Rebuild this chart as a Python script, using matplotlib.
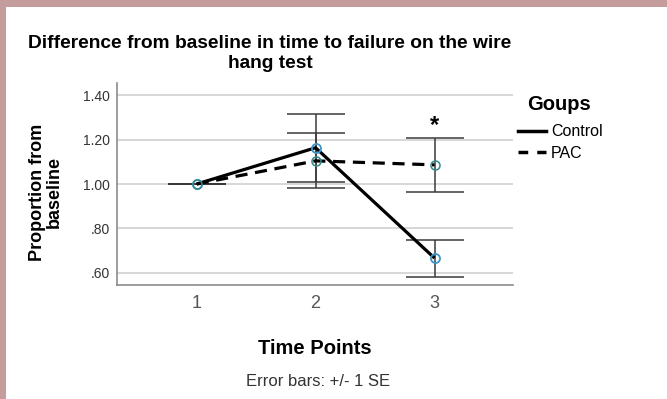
import matplotlib
matplotlib.use("Agg")
import matplotlib.pyplot as plt
from matplotlib.lines import Line2D
from matplotlib.patches import Rectangle
from matplotlib.ticker import FuncFormatter

# ---- data ----
time_points = [1, 2, 3]
x_tick_labels = ["1", "2", "3"]
control_mean = [1.00, 1.163, 0.667]
control_se = [0.0, 0.153, 0.083]
pac_mean = [1.00, 1.104, 1.086]
pac_se = [0.0, 0.124, 0.121]
y_ticks = [0.60, 0.80, 1.00, 1.20, 1.40]
group_names = ["Control", "PAC"]
sig_point = 3

FONT = "Liberation Sans"

W, H = 667, 399
fig = plt.figure(figsize=(W / 100, H / 100), dpi=100)
fig.patch.set_facecolor("white")

# pink frame bands
border = "#c49c9c"
fig.patches.append(Rectangle((0, 1 - 7 / H), 1, 7 / H, transform=fig.transFigure,
                             facecolor=border, edgecolor="none", zorder=0))
fig.patches.append(Rectangle((0, 0), 6 / W, 1, transform=fig.transFigure,
                             facecolor=border, edgecolor="none", zorder=0))

ax = fig.add_axes([117 / W, 1 - 285 / H, (513 - 117) / W, (285 - 83) / H])
ax.set_xlim(0.33, 3.66)
ax.set_ylim(0.546, 1.454)

for yv in y_ticks:
    ax.axhline(yv, color="#d4d4d4", lw=1.3, zorder=0)

err_kw = dict(fmt="none", ecolor="#3a3a3a", elinewidth=1.1, capsize=21, capthick=1.1, zorder=2)
ax.errorbar(time_points, control_mean, yerr=control_se, **err_kw)
ax.errorbar(time_points, pac_mean, yerr=pac_se, **err_kw)

ax.plot(time_points, control_mean, color="black", lw=2.3, solid_capstyle="butt",
        marker="o", ms=6.5, mfc="none", mec="#3d95c8", mew=1.3, zorder=3, label=group_names[0])
ax.plot(time_points, pac_mean, color="black", lw=2.3, dashes=(3.8, 2.4),
        marker="o", ms=6.5, mfc="none", mec="#35888a", mew=1.1, zorder=3, label=group_names[1])

# significance marker
idx = time_points.index(sig_point)
ax.text(sig_point, pac_mean[idx] + pac_se[idx] + 0.005, "*", ha="center", va="bottom",
        fontsize=17, fontweight="bold", family=FONT)

ax.set_yticks(y_ticks)
ax.yaxis.set_major_formatter(FuncFormatter(lambda v, p: f"{v:.2f}".lstrip("0")))
ax.set_xticks(time_points)
ax.set_xticklabels(x_tick_labels)
ax.tick_params(axis="y", length=0, pad=5, labelsize=10, labelcolor="#333333")
ax.tick_params(axis="x", length=0, pad=7, labelsize=13, labelcolor="#555555")
for lab in ax.get_yticklabels() + ax.get_xticklabels():
    lab.set_family(FONT)

for s in ["top", "right"]:
    ax.spines[s].set_visible(False)
for s in ["left", "bottom"]:
    ax.spines[s].set_color("#8c8c8c")
    ax.spines[s].set_linewidth(1.2)

fig.text(270 / W, 1 - 48 / H, "Difference from baseline in time to failure on the wire",
         ha="center", va="baseline", fontsize=13.8, fontweight="bold", family=FONT)
fig.text(270 / W, 1 - 68 / H, "hang test",
         ha="center", va="baseline", fontsize=13.8, fontweight="bold", family=FONT)
fig.text(46 / W, 1 - 192 / H, "Proportion from\nbaseline", rotation=90, ha="center", va="center",
         fontsize=13, fontweight="bold", family=FONT, linespacing=0.95)
fig.text(315 / W, 1 - 348 / H, "Time Points", ha="center", va="center",
         fontsize=14.5, fontweight="bold", family=FONT)
fig.text(318 / W, 1 - 382 / H, "Error bars: +/- 1 SE", ha="center", va="center",
         fontsize=12, family=FONT, color="#333333")

handles = [Line2D([], [], color="black", lw=2.5),
           Line2D([], [], color="black", lw=2.5, dashes=(2.8, 2.6))]
leg = fig.legend(handles, group_names, title="Goups", loc="upper left",
                 bbox_to_anchor=(512 / W, 1 - 89 / H), frameon=False,
                 prop={"family": FONT, "size": 11.5}, handlelength=1.75,
                 handletextpad=0.3, labelspacing=0.4, borderaxespad=0,
                 title_fontproperties={"family": FONT, "size": 14.5, "weight": "bold"})
leg._legend_box.align = "left"
leg._legend_box.sep = 7
leg.get_title().set_position((9, 0))

fig.savefig("out.png", dpi=100)
